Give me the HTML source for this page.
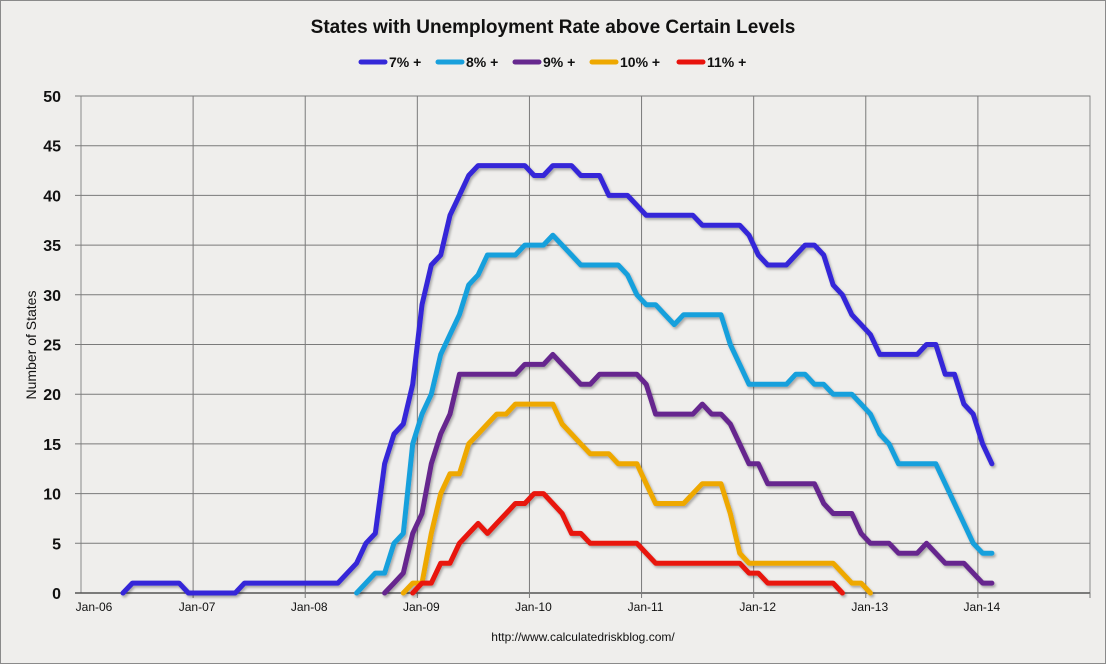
<!DOCTYPE html>
<html><head><meta charset="utf-8"><style>
html,body{margin:0;padding:0;background:#efeeec;}
svg{display:block;font-family:"Liberation Sans",sans-serif;}
</style></head><body>
<svg id="chart" width="1106" height="664" viewBox="0 0 1106 664">
<defs><filter id="sh" x="-5%" y="-5%" width="110%" height="110%"><feDropShadow dx="1.5" dy="2" stdDeviation="1.2" flood-color="#000" flood-opacity="0.3"/></filter></defs>
<rect x="0.5" y="0.5" width="1105" height="663" fill="#efeeec" stroke="#8a8a8a"/>
<text x="553" y="33" text-anchor="middle" font-size="19" font-weight="bold" fill="#111">States with Unemployment Rate above Certain Levels</text>
<g id="legend"></g>
<g id="grid"></g>
<g id="axes"></g>
<g id="series" filter="url(#sh)"></g>
<text transform="translate(36,345) rotate(-90)" text-anchor="middle" font-size="14" fill="#111">Number of States</text>
<text x="583" y="641" text-anchor="middle" font-size="12" fill="#111">http://www.calculatedriskblog.com/</text>
</svg>
<script>
const xTickLabels=["Jan-06","Jan-07","Jan-08","Jan-09","Jan-10","Jan-11","Jan-12","Jan-13","Jan-14"];
const yTicks=[0,5,10,15,20,25,30,35,40,45,50];
const seriesNames=["7% +","8% +","9% +","10% +","11% +"];
const seriesColors=["#3428d8","#19a0dc","#66288e","#eea800","#e8120c"];
const startMonths=[4,29,32,34,35];
const s7=[0,1,1,1,1,1,1,0,0,0,0,0,0,1,1,1,1,1,1,1,1,1,1,1,2,3,5,6,13,16,17,21,29,33,34,38,40,42,43,43,43,43,43,43,42,42,43,43,43,42,42,42,40,40,40,39,38,38,38,38,38,38,37,37,37,37,37,36,34,33,33,33,34,35,35,34,31,30,28,27,26,24,24,24,24,24,25,25,22,22,19,18,15,13];
const s8=[0,1,2,2,5,6,15,18,20,24,26,28,31,32,34,34,34,34,35,35,35,36,35,34,33,33,33,33,33,32,30,29,29,28,27,28,28,28,28,28,25,23,21,21,21,21,21,22,22,21,21,20,20,20,19,18,16,15,13,13,13,13,13,11,9,7,5,4,4];
const s9=[0,1,2,6,8,13,16,18,22,22,22,22,22,22,22,23,23,23,24,23,22,21,21,22,22,22,22,22,21,18,18,18,18,18,19,18,18,17,15,13,13,11,11,11,11,11,11,9,8,8,8,6,5,5,5,4,4,4,5,4,3,3,3,2,1,1];
const s10=[0,1,1,6,10,12,12,15,16,17,18,18,19,19,19,19,19,17,16,15,14,14,14,13,13,13,11,9,9,9,9,10,11,11,11,8,4,3,3,3,3,3,3,3,3,3,3,2,1,1,0];
const s11=[0,1,1,3,3,5,6,7,6,7,8,9,9,10,10,9,8,6,6,5,5,5,5,5,5,4,3,3,3,3,3,3,3,3,3,3,2,2,1,1,1,1,1,1,1,1,0];
const allSeries=[s7,s8,s9,s10,s11];

const NS="http://www.w3.org/2000/svg";
const X0=81,X1=1090,Y0=593,YTOP=96,PXM=(X1-X0)/108;
function xScale(m){return X0+(m+0.5)*PXM;}
function yScale(v){return Y0-(v/50)*(Y0-YTOP);}
function mk(tag,attrs,parent){const e=document.createElementNS(NS,tag);for(const k in attrs)e.setAttribute(k,attrs[k]);parent.appendChild(e);return e;}
const grid=document.getElementById('grid'),axes=document.getElementById('axes'),ser=document.getElementById('series'),leg=document.getElementById('legend');
mk('rect',{x:X0,y:YTOP,width:X1-X0,height:Y0-YTOP,fill:'none',stroke:'#8a8a8a','stroke-width':1},grid);
yTicks.forEach(v=>{
  const y=yScale(v);
  const l=mk('line',{x1:X0-6,x2:X1,y1:y,y2:y,stroke:v===0?'#555':'#7a7a7a','stroke-width':v===0?1.5:1},grid);
  
  
  const t=mk('text',{x:61,y:y+6,'text-anchor':'end','font-size':16,'font-weight':'bold',fill:'#111'},axes);
  t.textContent=v;
  
  
});
xTickLabels.forEach((lab,i)=>{
  const x=X0+i*12*PXM;
  if(i>0){const l=mk('line',{x1:x,x2:x,y1:YTOP,y2:Y0+5,stroke:'#7a7a7a','stroke-width':1},grid);
  
  }
  const t=mk('text',{x:i===0?94:x+4,y:611,'text-anchor':'middle','font-size':12,fill:'#111'},axes);
  t.textContent=lab;
  
  
});
mk('line',{x1:X1,x2:X1,y1:Y0,y2:Y0+5,stroke:'#7a7a7a'},grid);
allSeries.forEach((vals,si)=>{
  const pts=vals.map((v,i)=>xScale(startMonths[si]+i).toFixed(1)+','+yScale(v).toFixed(1)).join(' ');
  const p=mk('polyline',{points:pts,fill:'none',stroke:seriesColors[si],'stroke-width':5,'stroke-linejoin':'round','stroke-linecap':'round'},ser);
  
  
});
const legX=[359,436,513,590,677];
seriesNames.forEach((n,i)=>{
  const g=mk('g',{},leg);
  
  
  mk('line',{x1:legX[i]+2,x2:legX[i]+26,y1:62,y2:62,stroke:seriesColors[i],'stroke-width':5,'stroke-linecap':'round'},g);
  const t=mk('text',{x:legX[i]+30,y:67,'font-size':14,'font-weight':'bold',fill:'#111'},g);
  t.textContent=n;
});
</script>
</body></html>
